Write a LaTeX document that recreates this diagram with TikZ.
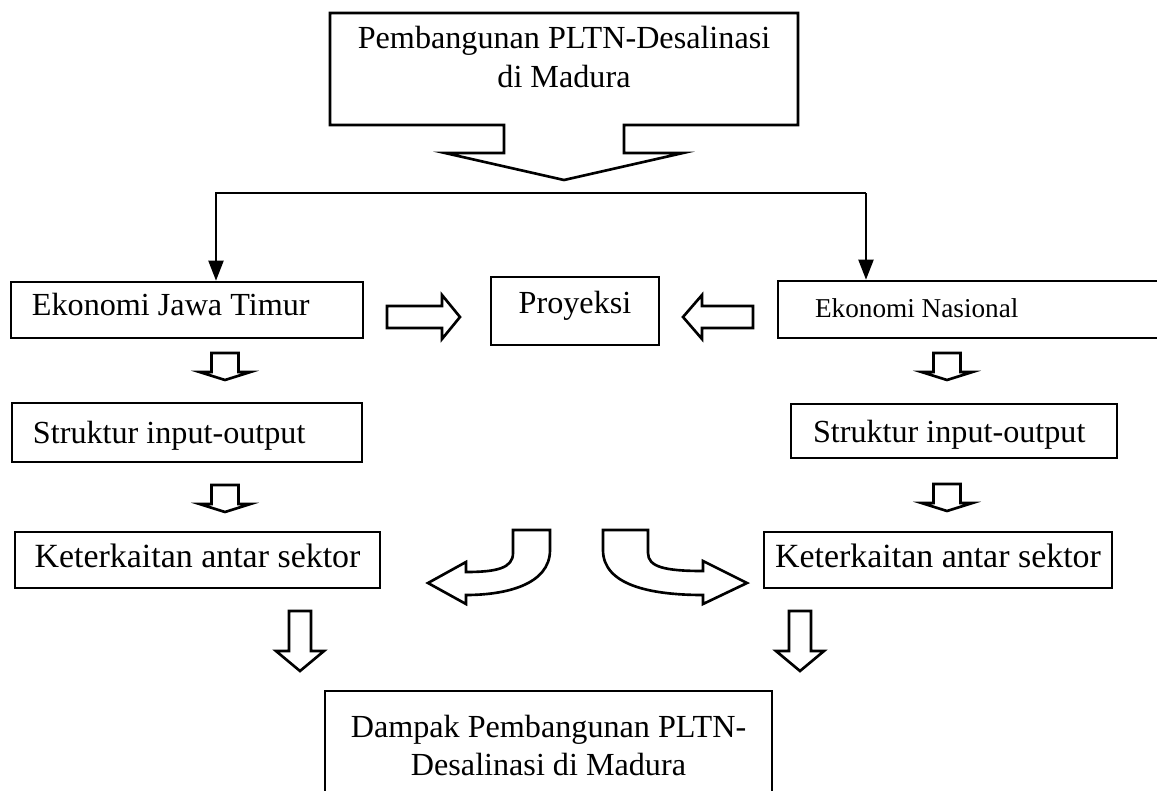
\documentclass[tikz,border=0pt]{standalone}
\usepackage{fontspec}
\setmainfont{Liberation Serif}
\usetikzlibrary{arrows.meta,calc}
\newcommand{\boxfont}{\fontsize{18.3}{22}\selectfont}
\newcommand{\natfont}{\fontsize{15.5}{19}\selectfont}
\newcommand{\linkfont}{\fontsize{19.3}{23}\selectfont}

\begin{document}
\begin{tikzpicture}[x=0.2mm,y=-0.2mm,
  font=\boxfont, line width=1.5pt, line join=miter,
  >={Triangle[length=4mm,width=3mm]},
  stage/.style={draw,rectangle,inner sep=0pt},
  oneline/.style={stage,text height=4.4mm},
  leftpad/.style={inner xsep=#1,align=flush left},
  bus/.style={line width=1.2pt},
  pics/smalldown/.style={code={
    \draw (-13.5,0)--(-13.5,19)--(-25.5,19)--(0,27)--(25.5,19)--(13.5,19)--(13.5,0)--cycle;}},
  pics/bigdown/.style={code={
    \draw (-11,0)--(-11,40)--(-24,40)--(0,60)--(24,40)--(11,40)--(11,0)--cycle;}},
  pics/fatright/.style={code={
    \draw (0,-11)--(55,-11)--(55,-22)--(73,0)--(55,22)--(55,11)--(0,11)--cycle;}},
  pics/fatleft/.style={code={
    \draw (0,-11)--(-51,-11)--(-51,-22)--(-70,0)--(-51,22)--(-51,11)--(0,11)--cycle;}}]
  \useasboundingbox (0,0) rectangle (1157,790);

  \node[align=center,anchor=north,inner sep=0pt] (plan) at (564,25)
    {Pembangunan PLTN-Desalinasi\\di Madura};
  \draw (330,125)--(330,13)--(798,13)--(798,125)--(624,125)--(624,153)--(683,153)
    --(564,180)--(445,153)--(504,153)--(504,125)--cycle;

  \node[oneline,leftpad=4.2mm,text width=62mm,minimum height=11.2mm,text depth=2.4mm]
    (jatim) at (187,310) {Ekonomi Jawa Timur};
  \node[oneline,minimum width=33.6mm,minimum height=13.6mm,text depth=3.6mm]
    (proyeksi) at (575,311) {Proyeksi};
  \node[oneline,leftpad=7.4mm,text width=61.6mm,minimum height=11.4mm,text depth=1.2mm,font=\natfont]
    (nasional) at (969,309.5) {Ekonomi Nasional};
  \node[oneline,leftpad=4.2mm,text width=61.6mm,minimum height=11.8mm,text depth=0.2mm]
    (iojatim) at (187,432.5) {Struktur input-output};
  \node[oneline,leftpad=4.4mm,text width=56.4mm,minimum height=10.8mm,text depth=0mm]
    (ionas) at (954,431) {Struktur input-output};
  \node[oneline,minimum width=73mm,minimum height=11.2mm,text depth=1.6mm,font=\linkfont]
    (linkjatim) at (197.5,560) {Keterkaitan antar sektor};
  \node[oneline,minimum width=69.6mm,minimum height=11.2mm,text depth=1.6mm,font=\linkfont]
    (linknas) at (938,560) {Keterkaitan antar sektor};
  \node[stage,align=center,minimum width=89.4mm,minimum height=21.8mm]
    (impact) at (548.5,745.5) {Dampak Pembangunan PLTN-\\Desalinasi di Madura};

  \coordinate (busL) at (216,193);
  \coordinate (busR) at (866,193);
  \draw[bus,->] (busR)--(busL)--(busL |- jatim.north);
  \draw[bus,->] (busR)--(busR |- nasional.north);

  \pic at (387,317) {fatright};
  \pic at (753,317) {fatleft};
  \pic at (225,353) {smalldown};
  \pic at (947,353) {smalldown};
  \pic at (225,485) {smalldown};
  \pic at (947,484) {smalldown};
  \pic at (300,611) {bigdown};
  \pic at (800,611) {bigdown};

  \draw (513,530)--(550,530)--(550,550) .. controls (550,585) and (505,595) .. (466,595)
    --(466,604)--(428,583)--(466,562)--(466,572) .. controls (497,572) and (513,568) .. (513,553)--cycle;
  \draw (603,530)--(648,530)--(648,553) .. controls (648,567) and (665,571) .. (703,571)
    --(703,561)--(747,583)--(703,604)--(703,595) .. controls (650,595) and (603,585) .. (603,550)--cycle;
\end{tikzpicture}
\end{document}
